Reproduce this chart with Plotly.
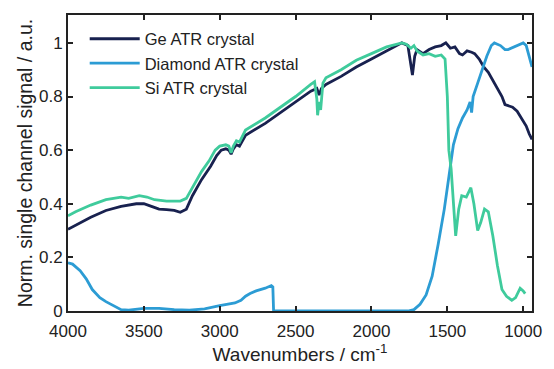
import plotly.graph_objects as go

# Wavenumber / normalised signal pairs for each ATR crystal
ge_wn = [4000, 3950, 3850, 3750, 3650, 3550, 3500, 3450, 3400, 3350, 3300, 3260, 3220, 3180, 3120,
         3060, 3020, 2990, 2960, 2940, 2925, 2910, 2890, 2870, 2855, 2830, 2700, 2600, 2500, 2400,
         2360, 2345, 2330, 2300, 2200, 2100, 2000, 1900, 1800, 1760, 1745, 1730, 1715, 1700, 1660,
         1620, 1580, 1540, 1510, 1480, 1450, 1420, 1400, 1370, 1340, 1320, 1290, 1260, 1230, 1200,
         1170, 1140, 1120, 1100, 1070, 1040, 1010, 980, 960, 942]
ge_sig = [0.305, 0.32, 0.35, 0.375, 0.39, 0.40, 0.40, 0.39, 0.38, 0.378, 0.375, 0.368, 0.38, 0.43, 0.49,
          0.54, 0.58, 0.60, 0.605, 0.60, 0.585, 0.605, 0.62, 0.615, 0.63, 0.655, 0.70, 0.74, 0.78, 0.82,
          0.83, 0.805, 0.83, 0.845, 0.875, 0.91, 0.94, 0.97, 1.0, 0.99, 0.94, 0.88, 0.95, 0.975, 0.96,
          0.975, 0.985, 0.99, 1.0, 0.98, 0.985, 0.96, 0.955, 0.97, 0.965, 0.96, 0.94, 0.91, 0.89, 0.86,
          0.83, 0.80, 0.77, 0.765, 0.76, 0.745, 0.72, 0.69, 0.66, 0.64]

dia_wn = [4000, 3970, 3920, 3880, 3840, 3790, 3750, 3700, 3650, 3600, 3500, 3400, 3300, 3200, 3100,
          3000, 2950, 2900, 2860, 2830, 2800, 2760, 2700, 2660, 2650, 2645, 2600, 2200, 1800, 1760,
          1720, 1680, 1640, 1600, 1560, 1520, 1490, 1460, 1430, 1400, 1370, 1350, 1340, 1330, 1300,
          1270, 1240, 1210, 1190, 1150, 1120, 1100, 1060, 1020, 1000, 980, 960, 942]
dia_sig = [0.18, 0.175, 0.15, 0.12, 0.08, 0.05, 0.035, 0.02, 0.005, 0.003, 0.01, 0.01, 0.005, 0.003, 0.008,
           0.02, 0.025, 0.03, 0.04, 0.055, 0.065, 0.075, 0.085, 0.095, 0.09, 0.0, 0.0, 0.0, 0.0, 0.0,
           0.005, 0.025, 0.06, 0.13, 0.25, 0.38, 0.50, 0.62, 0.68, 0.72, 0.75, 0.78, 0.74, 0.80, 0.85,
           0.90, 0.95, 0.99, 1.0, 0.99, 0.975, 0.975, 0.985, 0.995, 1.0, 0.99, 0.95, 0.91]

si_wn = [4000, 3950, 3850, 3750, 3650, 3600, 3530, 3480, 3430, 3350, 3260, 3220, 3180, 3120, 3070,
         3030, 3000, 2960, 2940, 2925, 2910, 2890, 2870, 2855, 2830, 2700, 2600, 2500, 2400, 2375,
         2360, 2355, 2345, 2335, 2320, 2300, 2200, 2100, 2000, 1900, 1800, 1770, 1740, 1720, 1700,
         1660, 1620, 1580, 1540, 1515, 1500, 1490, 1475, 1460, 1445, 1425, 1405, 1375, 1345, 1325,
         1300, 1280, 1255, 1230, 1200, 1170, 1140, 1110, 1075, 1050, 1020, 1000, 987]
si_sig = [0.355, 0.37, 0.395, 0.415, 0.425, 0.42, 0.43, 0.425, 0.415, 0.41, 0.41, 0.42, 0.46, 0.52, 0.56,
          0.60, 0.615, 0.62, 0.615, 0.59, 0.615, 0.635, 0.63, 0.645, 0.675, 0.72, 0.76, 0.80, 0.845, 0.855,
          0.79, 0.73, 0.78, 0.75, 0.85, 0.87, 0.90, 0.935, 0.96, 0.985, 1.0, 0.995, 0.98, 0.99, 0.97,
          0.955, 0.96, 0.95, 0.955, 0.94, 0.80, 0.60, 0.53, 0.40, 0.28, 0.38, 0.43, 0.425, 0.46, 0.40,
          0.30, 0.33, 0.38, 0.37, 0.28, 0.17, 0.08, 0.055, 0.04, 0.05, 0.085, 0.075, 0.065]

x_ticks = [1000, 1500, 2000, 2500, 3000, 3500, 4000]
y_ticks = [0, 0.2, 0.4, 0.6, 0.8, 1]
y_labels = ["0", "0.2", "0.4", "0.6", "0.8", "1"]

series = [
    ("Ge ATR crystal", ge_wn, ge_sig, "#18214f"),
    ("Diamond ATR crystal", dia_wn, dia_sig, "#2c9cd4"),
    ("Si ATR crystal", si_wn, si_sig, "#3fcb9c"),
]

fig = go.Figure()
for name, wn, sig, color in series:
    fig.add_trace(go.Scatter(x=wn, y=sig, mode="lines", name=name,
                             line=dict(color=color, width=2.8)))

font = "Liberation Sans, Arial, sans-serif"
fig.update_layout(
    width=554, height=369,
    margin=dict(l=68, r=12, t=15, b=58),
    paper_bgcolor="white", plot_bgcolor="white",
    font=dict(family=font, size=17, color="#222"),
    showlegend=True,
    legend=dict(x=0.036, y=0.978, xanchor="left", yanchor="top",
                bgcolor="rgba(0,0,0,0)", font=dict(size=16.5, color="#222"),
                tracegroupgap=0, itemwidth=50),
)
fig.update_xaxes(
    range=[4000, 942], tickvals=x_ticks, ticks="inside", ticklen=5, tickwidth=1.5,
    tickcolor="#222", showline=True, linecolor="#222", linewidth=2, mirror="ticks",
    showgrid=False, zeroline=False, tickfont=dict(size=17), ticklabelstandoff=4,
    title=dict(text="Wavenumbers / cm<sup>-1</sup>", font=dict(size=19), standoff=2),
)
fig.update_yaxes(
    range=[0, 1.104], tickvals=y_ticks, ticktext=y_labels, ticks="inside", ticklen=5,
    tickwidth=1.5, tickcolor="#222", showline=True, linecolor="#222", linewidth=2,
    mirror="ticks", showgrid=False, zeroline=False, tickfont=dict(size=17),
    title=dict(text="Norm. single channel signal / a.u.", font=dict(size=19.5), standoff=1),
)

fig.write_html("out.html")
